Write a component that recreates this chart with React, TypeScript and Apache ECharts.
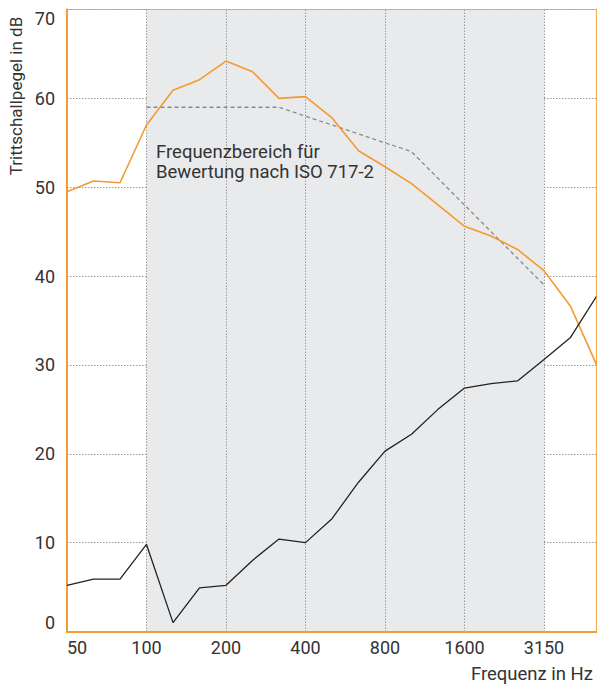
import React, { useEffect, useRef } from "react";
import * as echarts from "echarts";

const frequencies = ["50", "63", "80", "100", "125", "160", "200", "250", "315", "400", "500", "630", "800", "1000", "1250", "1600", "2000", "2500", "3150", "4000", "5000"];
const orangeSeries = [49.5, 50.7, 50.5, 57.0, 60.9, 62.1, 64.2, 63.0, 60.0, 60.2, 57.8, 54.1, 52.3, 50.4, 48.0, 45.6, 44.5, 43.0, 40.6, 36.6, 29.9];
const blackSeries = [5.2, 5.9, 5.9, 9.8, 1.0, 4.9, 5.2, 8.0, 10.4, 10.0, 12.7, 16.8, 20.3, 22.2, 25.0, 27.4, 27.9, 28.2, 30.6, 33.1, 37.8];
const referenceCurve = [null, null, null, 59, 59, 59, 59, 59, 59, 58, 57, 56, 55, 54, 51, 48, 45, 42, 39, null, null];
// shading of octave bands: outside / inside the rating range 100–3150 Hz
const bandShading = ["rgba(0,0,0,0)", "#e9eaec", "#e9eaec", "#e9eaec", "#e9eaec", "#e9eaec", "rgba(0,0,0,0)"];
const yTicks = { min: 0, max: 70, interval: 10 };

const ORANGE = "#f39a30";
const FONT = "Roboto, 'Noto Sans', sans-serif";

export default function App() {
  const ref = useRef<HTMLDivElement>(null);
  useEffect(() => {
    const chart = echarts.init(ref.current!, null, { renderer: "svg" });
    const gridLeft = 67;
    const gridTop = 9.5;
    const gridWidth = 533;
    const gridHeight = 622;
    chart.setOption({
      animation: false,
      backgroundColor: "#ffffff",
      grid: { left: gridLeft, top: gridTop, width: gridWidth, height: gridHeight, containLabel: false },
      xAxis: {
        type: "category",
        data: frequencies,
        boundaryGap: false,
        axisLine: { show: true, lineStyle: { color: ORANGE, width: 2 } },
        axisTick: { show: false },
        axisLabel: {
          interval: 2,
          color: "#333",
          fontSize: 18,
          fontFamily: FONT,
          margin: 7,
          alignMinLabel: "left",
        },
        splitLine: { show: true, interval: 2, lineStyle: { color: "#9a9a9a", type: [1.5, 1.5], width: 1 } },
        splitArea: { show: true, interval: 2, areaStyle: { color: bandShading } },
      },
      yAxis: {
        type: "value",
        min: yTicks.min,
        max: yTicks.max,
        interval: yTicks.interval,
        axisLine: { show: true, lineStyle: { color: ORANGE, width: 2 } },
        axisTick: { show: false },
        axisLabel: {
          color: "#333",
          fontSize: 18,
          fontFamily: FONT,
          margin: 12,
          verticalAlignMinLabel: "bottom",
          verticalAlignMaxLabel: "top",
        },
        splitLine: { show: true, lineStyle: { color: "#9a9a9a", type: [1.5, 1.5], width: 1 } },
      },
      graphic: [
        { type: "line", shape: { x1: gridLeft, y1: gridTop, x2: 597, y2: gridTop }, style: { stroke: ORANGE, lineWidth: 1.2, opacity: 0.8 }, z: 10 },
        { type: "line", shape: { x1: 596.5, y1: gridTop, x2: 596.5, y2: gridTop + gridHeight }, style: { stroke: ORANGE, lineWidth: 1.2, opacity: 0.8 }, z: 10 },
        {
          type: "text",
          x: 16,
          y: 96,
          rotation: Math.PI / 2,
          style: { text: "Trittschallpegel in dB", fill: "#333", font: `17px ${FONT}`, textAlign: "center", textVerticalAlign: "middle" },
        },
        {
          type: "text",
          x: 593,
          y: 664,
          style: { text: "Frequenz in Hz", fill: "#333", font: `18.5px ${FONT}`, textAlign: "right" },
        },
        {
          type: "text",
          x: 156,
          y: 142,
          z: 10,
          style: { text: "Frequenzbereich für\nBewertung nach ISO 717-2", fill: "#333", font: `18.5px ${FONT}`, lineHeight: 20 },
        },
      ],
      series: [
        {
          type: "line",
          data: referenceCurve,
          symbol: "none",
          lineStyle: { color: "#8a8a8a", width: 1.3, type: [4, 3] },
          connectNulls: false,
        },
        {
          type: "line",
          data: orangeSeries,
          symbol: "none",
          lineStyle: { color: ORANGE, width: 1.6 },
        },
        {
          type: "line",
          data: blackSeries,
          symbol: "none",
          lineStyle: { color: "#222", width: 1.3 },
        },
      ],
    });
    return () => chart.dispose();
  }, []);
  return <div ref={ref} style={{ position: "fixed", left: 0, top: 0, width: 597, height: 689, overflow: "hidden" }} />;
}
